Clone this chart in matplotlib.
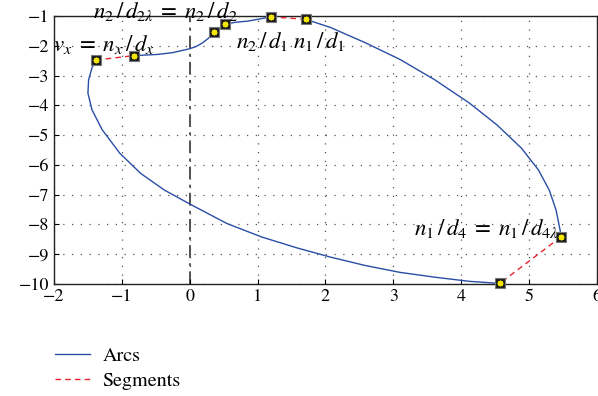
import numpy as np
import matplotlib
matplotlib.use('Agg')
import matplotlib.pyplot as plt
from matplotlib.lines import Line2D

plt.rcParams['font.family'] = ['STIXGeneral', 'DejaVu Serif']
plt.rcParams['mathtext.fontset'] = 'stix'

# corner points (markers)
pts_x = [-1.38, -0.82, 0.36, 0.52, 1.20, 1.71, 5.47, 4.57]
pts_y = [-2.48, -2.33, -1.54, -1.27, -1.03, -1.11, -8.42, -9.98]

# arcs
arc_a_x = [-0.82, -0.64, -0.47, -0.25, 0.0, 0.10, 0.19, 0.28, 0.36]
arc_a_y = [-2.33, -2.31, -2.29, -2.23, -2.10, -2.02, -1.90, -1.74, -1.54]

arc_b_x = [0.52, 0.68, 0.86, 1.03, 1.20]
arc_b_y = [-1.27, -1.21, -1.17, -1.10, -1.03]

arc_c_x = [1.71, 2.08, 2.59, 3.10, 3.61, 4.12, 4.53, 4.89, 5.14, 5.30, 5.40, 5.46, 5.47]
arc_c_y = [-1.11, -1.39, -1.90, -2.46, -3.14, -3.92, -4.66, -5.44, -6.17, -6.85, -7.52,
           -8.20, -8.42]

arc_d_x = [4.57, 4.12, 3.61, 3.10, 2.59, 2.08, 1.57, 1.06, 0.55, 0.04, -0.37, -0.72,
           -1.03, -1.29, -1.44, -1.50, -1.49, -1.44, -1.38]
arc_d_y = [-9.98, -9.91, -9.77, -9.61, -9.38, -9.10, -8.78, -8.42, -7.97, -7.36, -6.85,
           -6.29, -5.61, -4.82, -4.15, -3.59, -3.14, -2.74, -2.48]

# straight segments: pairs of marker indices
seg_pairs = [(0, 1), (2, 3), (4, 5), (6, 7)]

blue = '#2a4ea6'
red = '#e8242c'

fig = plt.figure(figsize=(5.98, 3.96), dpi=100)
ax = fig.add_axes([0.0903, 0.2828, 0.9077, 0.6768])

ax.set_xlim(-2, 6)
ax.set_ylim(-10, -1)
ax.set_xticks(range(-2, 7))
ax.set_yticks(range(-10, 0))
ax.grid(True, linestyle=(0, (1, 6)), color='#555555', linewidth=0.9)
ax.axvline(0, color='#444444', linestyle=(0, (7, 3, 1.5, 3)), linewidth=1.3, zorder=1)
ax.tick_params(direction='in', length=3.5, labelsize=13, width=0.8)
for s in ax.spines.values():
    s.set_linewidth(1.0)
    s.set_color('#222222')

for ax_, ay_ in [(arc_a_x, arc_a_y), (arc_b_x, arc_b_y), (arc_c_x, arc_c_y), (arc_d_x, arc_d_y)]:
    ax.plot(ax_, ay_, color=blue, lw=1.0, zorder=3, clip_on=False, solid_joinstyle='round')

for i, j in seg_pairs:
    ax.plot([pts_x[i], pts_x[j]], [pts_y[i], pts_y[j]], color=red, lw=1.0,
            linestyle=(0, (4, 3)), zorder=3, clip_on=False)

ax.plot(pts_x, pts_y, 's', ms=7.0, mfc='#1c1c1c', mec='#777777', mew=0.8, zorder=5, clip_on=False)
ax.plot(pts_x, pts_y, marker=(8, 2, 0), ls='none', ms=4, mec='#f5e600', mew=1.1, zorder=6, clip_on=False)

fs = 16.5
ax.text(-0.36, -0.85, r'$n_2\,/\,d_{2\lambda}\;=\;n_2\,/\,d_2$', fontsize=fs, ha='center', va='center', zorder=7)
ax.text(-1.26, -1.96, r'$v_x\;=\;n_x\,/\,d_x$', fontsize=fs, ha='center', va='center', zorder=7)
ax.text(1.06, -1.85, r'$n_2\,/\,d_1$', fontsize=fs, ha='center', va='center', zorder=7)
ax.text(1.90, -1.85, r'$n_1\,/\,d_1$', fontsize=fs, ha='center', va='center', zorder=7)
ax.text(4.38, -8.13, r'$n_1\,/\,d_4\;=\;n_1\,/\,d_{4\lambda}$', fontsize=fs, ha='center', va='center', zorder=7)

handles = [Line2D([], [], color=blue, lw=1.0),
           Line2D([], [], color=red, lw=1.0, linestyle=(0, (4, 3)))]
fig.legend(handles, ['Arcs', 'Segments'], loc='upper left', bbox_to_anchor=(0.062, 0.169),
           frameon=False, fontsize=14.5, handlelength=1.75, handletextpad=0.6, labelspacing=0.35)

fig.savefig('out.png', dpi=100)
